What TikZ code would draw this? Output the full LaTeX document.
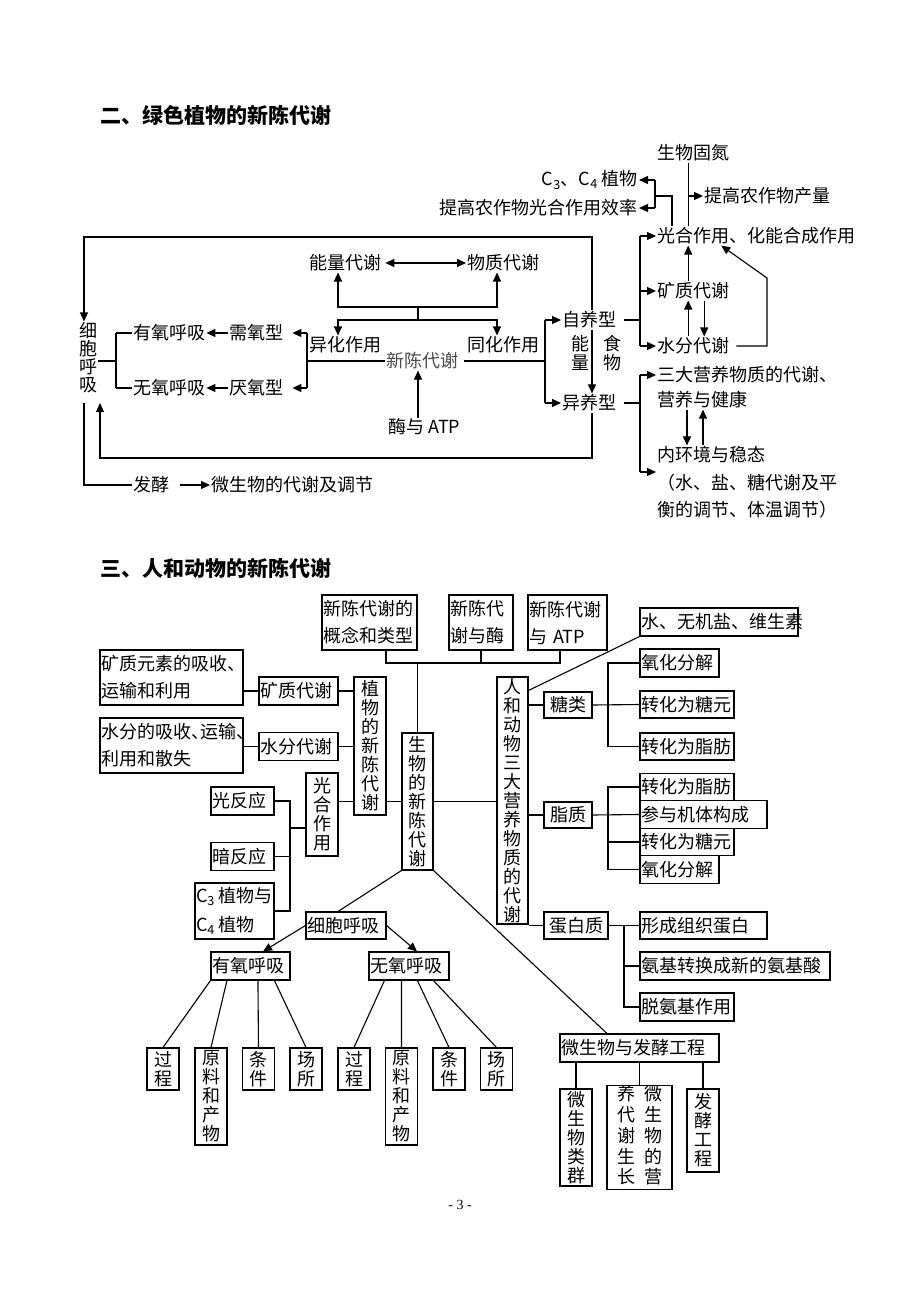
\documentclass[tikz,border=0pt]{standalone}
\usepackage{fontspec}
\setmainfont{Noto Sans CJK SC}
\newfontfamily\pgfont{Liberation Serif}
\usetikzlibrary{arrows.meta}
\begin{document}
\begin{tikzpicture}[x=1pt,y=-1pt,
  every node/.style={font=\fontsize{18}{19}\selectfont, inner sep=1pt},
  t/.style={anchor=west},
  ln/.style={line width=1.1pt},
  arr/.style={line width=1.1pt,-{Triangle[length=9pt,width=8pt]}},
  darr/.style={line width=1.1pt,{Triangle[length=9pt,width=8pt]}-{Triangle[length=9pt,width=8pt]}},
  box/.style={draw,line width=1.1pt,inner sep=1pt,align=left},
  cbox/.style={draw,line width=1.1pt,inner sep=1pt,align=center},
  twol/.style={font=\fontsize{18}{27}\selectfont},
  vbox/.style={draw,line width=1.1pt,inner sep=0pt,align=center,font=\fontsize{18}{19}\selectfont},
  head/.style={anchor=west,font=\fontsize{21}{21}\selectfont\bfseries},
]
\useasboundingbox (0,0) rectangle (920,1300);
\fill[white] (0,0) rectangle (920,1300);

% ===== headings =====
\node[head] (h2) at (99,115) {二、绿色植物的新陈代谢};
\node[head] (h3) at (99,568) {三、人和动物的新陈代谢};
\node[font=\pgfont\fontsize{14}{14}\selectfont] (pg) at (460,1205) {- 3 -};

% ===== top section nodes =====
\node[t] (swgd) at (656,153) {生物固氮};
\node[anchor=east] (c34) at (639,180) {C\textsubscript{3}、C\textsubscript{4} 植物};
\node[anchor=east] (tgxl) at (639,208) {提高农作物光合作用效率};
\node[t] (tgcl) at (703,196) {提高农作物产量};
\node[t] (gh) at (656,236) {光合作用、化能合成作用};
\node[t] (kz) at (656,291) {矿质代谢};
\node[t] (sf) at (656,346) {水分代谢};
\node[t] (sd) at (656,375) {三大营养物质的代谢、};
\node[t] (yy) at (656,400) {营养与健康};
\node[t] (nhj) at (656,455) {内环境与稳态};
\node[t] (shui) at (656,483) {（水、盐、糖代谢及平};
\node[t] (heng) at (656,510) {衡的调节、体温调节）};
\node[t] (zyx) at (561,320) {自养型};
\node[t] (yyx) at (561,403) {异养型};
\node[align=center] (nl) at (580,353) {能\\量};
\node[align=center] (sw) at (612,353) {食\\物};
\node[t,text=black!70] (xc) at (385,361) {新陈代谢};
\node[t] (yh) at (308,345) {异化作用};
\node[t] (th) at (466,345) {同化作用};
\node[t] (nlds) at (308,263) {能量代谢};
\node[t] (wzds) at (466,263) {物质代谢};
\node[t] (atp) at (387,427) {酶与 ATP};
\node[t] (xqx) at (228,333) {需氧型};
\node[t] (yqx) at (228,388) {厌氧型};
\node[t] (yyhx) at (132,333) {有氧呼吸};
\node[t] (wyhx) at (132,388) {无氧呼吸};
\node[align=center,font=\fontsize{18}{18}\selectfont] (xbhx) at (88,358) {细\\胞\\呼\\吸};
\node[t] (fj) at (132,485) {发酵};
\node[t] (wsw) at (210,485) {微生物的代谢及调节};

% ===== top section connectors =====
\draw[ln] ([xshift=-5pt]swgd.south) -- ([xshift=-5pt]swgd.south |- gh.north);
\draw[arr] ([xshift=-5pt]swgd.south |- tgcl.west) -- (tgcl.west);
\coordinate (bj) at (655,196);
\draw[ln] (bj |- c34.east) -- (bj |- tgxl.east);
\draw[arr] (bj |- c34.east) -- (c34.east);
\draw[arr] (bj |- tgxl.east) -- (tgxl.east);
\draw[ln] (bj) -| ([xshift=16pt]gh.north west);

\draw[arr] ([xshift=-5pt]kz.north) -- ([xshift=-5pt]kz.north |- gh.south);
\draw[arr] ([xshift=-5pt]sf.north) -- ([xshift=-5pt]kz.south);
\draw[arr] ([xshift=11pt]kz.south) -- ([xshift=11pt]sf.north);
\coordinate (lp) at (767,278);
\draw[arr] ([xshift=6pt]sf.east) -| (lp) -- ([xshift=-35pt]gh.south);

\coordinate (b1) at (640,320);
\draw[ln] ([xshift=7pt]zyx.east) -- (b1);
\draw[ln] (b1 |- gh.west) -- (b1 |- sf.west);
\draw[arr] (b1 |- gh.west) -- (gh.west);
\draw[arr] (b1 |- kz.west) -- (kz.west);
\draw[arr] (b1 |- sf.west) -- (sf.west);

\coordinate (b2) at (640,403);
\coordinate (b3) at (640,472);
\draw[ln] ([xshift=7pt]yyx.east) -- (b2);
\draw[ln] (b2 |- sd.west) -- (b3);
\draw[arr] (b2 |- sd.west) -- (sd.west);
\draw[arr] (b3) -- (b3 -| nhj.west);
\draw[arr] ([xshift=31pt]yy.south west) -- ([xshift=31pt]nhj.north west);
\draw[arr] ([xshift=47pt]nhj.north west) -- ([xshift=47pt]yy.south west);

\coordinate (b4) at (545,361);
\draw[ln] ([xshift=5pt]xc.east) -- (b4);
\draw[ln] (b4 |- zyx.west) -- (b4 |- yyx.west);
\draw[arr] (b4 |- zyx.west) -- (zyx.west);
\draw[arr] (b4 |- yyx.west) -- (yyx.west);
\draw[arr] ([xshift=31pt]zyx.south west) -- ([xshift=31pt]yyx.north west);

\coordinate (tl) at (84,237);
\draw[arr] ([xshift=31pt]zyx.north west) |- (tl) -- (tl |- xbhx.north);
\coordinate (bl) at (100,458);
\coordinate (bltip) at (100,403);
\draw[arr] ([xshift=31pt]yyx.south west) |- (bl) -- (bltip);

\coordinate (b5) at (116,361);
\draw[ln] (b5 -| xbhx.east) -- (b5);
\draw[ln] (b5 |- yyhx.west) -- (b5 |- wyhx.west);
\draw[ln] (b5 |- yyhx.west) -- (yyhx.west);
\draw[ln] (b5 |- wyhx.west) -- (wyhx.west);
\draw[arr] (xqx.west) -- (yyhx.east);
\draw[arr] (yqx.west) -- (wyhx.east);
\coordinate (b6) at (307,361);
\draw[ln] (xc.west) -- (b6);
\draw[ln] (b6 |- xqx.east) -- (b6 |- yqx.east);
\draw[arr] (b6 |- xqx.east) -- ([xshift=8pt]xqx.east);
\draw[arr] (b6 |- yqx.east) -- ([xshift=8pt]yqx.east);

\coordinate (m1) at (418,307);
\coordinate (m2) at (418,320);
\draw[ln] (m1) -- (m2);
\draw[arr] (m1) -| ([xshift=30pt]nlds.south west);
\draw[arr] (m1) -| ([xshift=31pt]wzds.south west);
\draw[arr] (m2) -| ([xshift=30pt]yh.north west);
\draw[arr] (m2) -| ([xshift=31pt]th.north west);
\draw[darr] ([xshift=3pt]nlds.east) -- (wzds.west);
\draw[arr] (atp.north -| m1) -- (xc.south -| m1);
\coordinate (fs) at (84,403);
\draw[ln] (fs) |- (fj.west);
\draw[arr] ([xshift=10pt]fj.east) -- (wsw.west);

% ===== bottom section nodes =====
\node[box,twol,text width=93pt,minimum height=55pt] (B1) at (369.5,622.5) {新陈代谢的\\概念和类型};
\node[box,twol,text width=62pt,minimum height=55pt] (B2) at (481,622.5) {新陈代\\谢与酶};
\node[box,twol,text width=77pt,minimum height=55pt] (B3) at (567.5,622.5) {新陈代谢\\\mbox{与 ATP}};
\node[vbox,minimum width=31pt,minimum height=137pt] (SW) at (417.5,801.5) {生\\物\\的\\新\\陈\\代\\谢};
\node[vbox,minimum width=32pt,minimum height=138pt] (ZW) at (370,746) {植\\物\\的\\新\\陈\\代\\谢};
\node[box,text width=77pt,minimum height=28pt] (KZ2) at (298.5,691) {矿质代谢};
\node[box,text width=77pt,minimum height=28pt] (SF2) at (298.5,746.5) {水分代谢};
\node[box,twol,text width=141pt,minimum height=55pt] (KY) at (171.5,677.5) {矿质元素的吸收、\\运输和利用};
\node[box,twol,text width=141pt,minimum height=55pt] (SY) at (171.5,745.5) {水分的吸收、\kern-0.5em运输、\\利用和散失};
\node[vbox,minimum width=32pt,minimum height=83pt] (GH2) at (322,814.5) {光\\合\\作\\用};
\node[box,text width=61pt,minimum height=28pt] (GFY) at (242.5,801) {光反应};
\node[box,text width=61pt,minimum height=28pt] (AFY) at (242.5,856.5) {暗反应};
\node[box,font=\fontsize{18}{29}\selectfont,text width=77pt,minimum height=56pt] (C34b) at (234.5,911) {\mbox{C\textsubscript{3}\hspace{4pt}植物与}\\\mbox{C\textsubscript{4}\hspace{4pt}植物}};
\node[box,text width=78pt,minimum height=27pt] (XB2) at (346,925.5) {细胞呼吸};
\node[box,text width=77pt,minimum height=28pt] (YY2) at (250.5,966) {有氧呼吸};
\node[box,text width=78pt,minimum height=28pt] (WY2) at (409,966) {无氧呼吸};
\node[vbox,minimum width=32pt,minimum height=42pt] (a1) at (163,1069) {过\\程};
\node[vbox,minimum width=32pt,minimum height=97pt] (a2) at (211,1096.5) {原\\料\\和\\产\\物};
\node[vbox,minimum width=32pt,minimum height=42pt] (a3) at (258.5,1069) {条\\件};
\node[vbox,minimum width=32pt,minimum height=42pt] (a4) at (306,1069) {场\\所};
\node[vbox,minimum width=32pt,minimum height=42pt] (n1) at (354,1069) {过\\程};
\node[vbox,minimum width=32pt,minimum height=97pt] (n2) at (401.5,1096.5) {原\\料\\和\\产\\物};
\node[vbox,minimum width=32pt,minimum height=42pt] (n3) at (449,1069) {条\\件};
\node[vbox,minimum width=32pt,minimum height=42pt] (n4) at (496.5,1069) {场\\所};
\node[box,text width=157pt,minimum height=28pt] (WSF) at (639.5,1048) {微生物与发酵工程};
\node[vbox,minimum width=32pt,minimum height=97pt] (M1) at (576,1137.5) {微\\生\\物\\类\\群};
\node[vbox,minimum width=65pt,minimum height=97pt] (M2) at (639.5,1137.5) {\begin{tabular}{@{}c@{\hspace{9pt}}c@{}}养&微\\代&生\\谢&物\\生&的\\长&营\end{tabular}};
\node[vbox,minimum width=32pt,minimum height=83pt] (M3) at (703,1130.5) {发\\酵\\工\\程};
\node[vbox,minimum width=31pt,minimum height=247pt] (RD) at (512.5,800.5) {人\\和\\动\\物\\三\\大\\营\\养\\物\\质\\的\\代\\谢};
\node[box,text width=156pt,minimum height=28pt] (WJ) at (719,622) {水、无机盐、维生素};
\node[cbox,text width=46pt,minimum height=26pt] (TL) at (568,705) {糖类};
\node[box,text width=77pt,minimum height=28pt] (t1) at (679.5,663) {氧化分解};
\node[box,text width=92pt,minimum height=27pt] (t2) at (687,704.5) {转化为糖元};
\node[box,text width=92pt,minimum height=27pt] (t3) at (687,746.5) {转化为脂肪};
\node[cbox,text width=46pt,minimum height=26pt] (ZZ) at (568,815) {脂质};
\node[box,text width=92pt,minimum height=27.5pt] (z1) at (687,787) {转化为脂肪};
\node[box,text width=125pt,minimum height=27.5pt] (z2) at (703.5,814.5) {参与机体构成};
\node[box,text width=92pt,minimum height=27.5pt] (z3) at (687,842) {转化为糖元};
\node[box,text width=77pt,minimum height=27.5pt] (z4) at (679.5,869.5) {氧化分解};
\node[cbox,text width=62pt,minimum height=27pt] (DB) at (576,925.5) {蛋白质};
\node[box,text width=125pt,minimum height=27pt] (d1) at (703.5,925.5) {形成组织蛋白};
\node[box,text width=188pt,minimum height=28pt] (d2) at (735,966) {氨基转换成新的氨基酸};
\node[box,text width=92pt,minimum height=28pt] (d3) at (687,1007) {脱氨基作用};

% ===== bottom section connectors =====
\coordinate (hb) at (417.5,663);
\draw[ln] ([xshift=16.5pt]B1.south) |- (hb);
\draw[ln] ([xshift=-7.5pt]B3.south) |- (hb);
\draw[ln] (B2.south) -- (B2.south |- hb);
\draw[ln] (hb) -- (SW.north);
\draw[ln] (SW.west) -- (SW.west -| ZW.east);
\draw[ln] (KZ2.east) -- (KZ2.east -| ZW.west);
\draw[ln] (SF2.east) -- (SF2.east -| ZW.west);
\draw[ln] (KZ2.west) -- (KZ2.west -| KY.east);
\draw[ln] (SF2.west) -- (SF2.west -| SY.east);
\draw[ln] (GH2.east |- SW.west) -- (ZW.west |- SW.west);
\coordinate (b7) at (290,828);
\draw[ln] (GFY.east) -| (b7 |- C34b.east) -- (C34b.east);
\draw[ln] (AFY.east) -- (AFY.east -| b7);
\draw[ln] (b7) -- (b7 -| GH2.west);

\draw[ln] (SW.south west) -- ([xshift=-8pt]XB2.north);
\draw[arr] (XB2.west) -- ([xshift=12.5pt]YY2.north);
\draw[arr] (XB2.east) -- ([xshift=8pt]WY2.north);
\draw[ln] (YY2.south west) -- (a1.north);
\draw[ln] ([xshift=16.5pt]YY2.south west) -- (a2.north);
\draw[ln] ([xshift=47.5pt]YY2.south west) -- (a3.north);
\draw[ln] ([xshift=64pt]YY2.south west) -- (a4.north);
\draw[ln] ([xshift=16pt]WY2.south west) -- (n1.north);
\draw[ln] ([xshift=33pt]WY2.south west) -- (n2.north);
\draw[ln] ([xshift=49pt]WY2.south west) -- (n3.north);
\draw[ln] ([xshift=65pt]WY2.south west) -- (n4.north);

\draw[ln] (SW.south east) -- ([xshift=-32.5pt]WSF.north);
\draw[ln] (M1.north |- WSF.south) -- (M1.north);
\draw[ln] (M2.north |- WSF.south) -- (M2.north);
\draw[ln] (M3.north |- WSF.south) -- (M3.north);

\draw[ln] (SW.east) -- (SW.east -| RD.west);
\draw[ln] ([yshift=-14pt]RD.north east) -- (WJ.south west);
\draw[ln] (TL.west) -- (TL.west -| RD.east);
\draw[ln] (ZZ.west) -- (ZZ.west -| RD.east);
\draw[ln] (DB.west -| RD.east) -- (DB.west);

\coordinate (b8) at (608,705);
\draw[ln] (TL.east) -- (t2.west);
\draw[ln] (t1.west) -| (b8 |- t3.west) -- (t3.west);
\coordinate (b9) at (608,815);
\draw[ln] (ZZ.east) -- (z2.west);
\draw[ln] (z1.west) -| (b9 |- z4.west) -- (z4.west);
\draw[ln] (b9 |- z3.west) -- (z3.west);
\coordinate (b10) at (624,925.5);
\draw[ln] (DB.east) -- (d1.west);
\draw[ln] (b10) |- (d3.west);
\draw[ln] (b10 |- d2.west) -- (d2.west);
\end{tikzpicture}
\end{document}
